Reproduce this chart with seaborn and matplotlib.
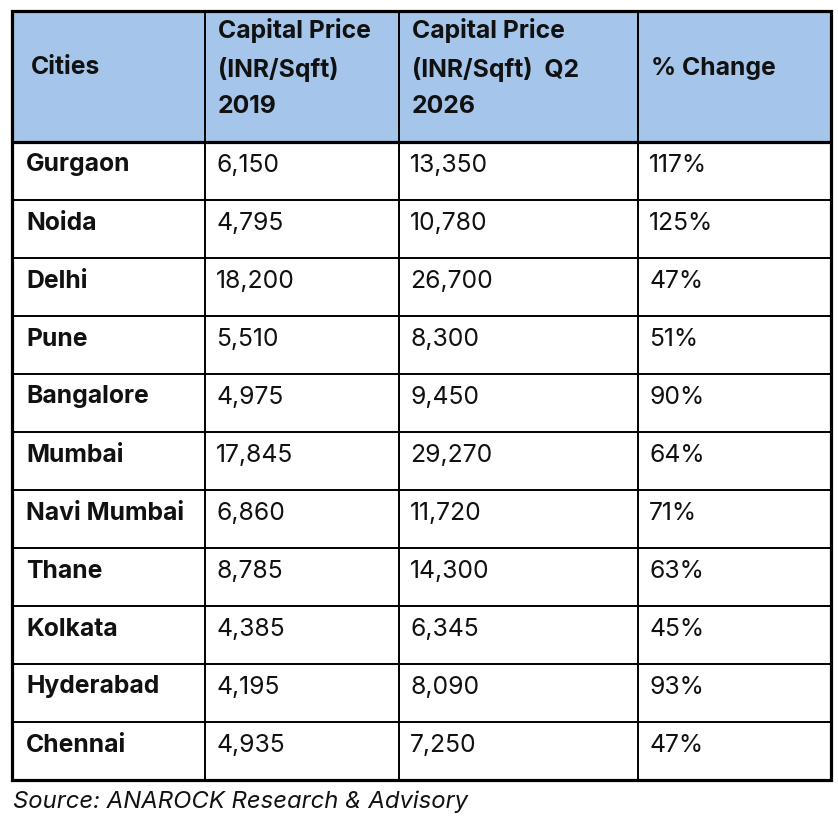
import matplotlib
matplotlib.use("Agg")
import matplotlib.pyplot as plt
from matplotlib.patches import Rectangle
import seaborn as sns

cities = ["Gurgaon", "Noida", "Delhi", "Pune", "Bangalore", "Mumbai",
          "Navi Mumbai", "Thane", "Kolkata", "Hyderabad", "Chennai"]
price_2019 = ["6,150", "4,795", "18,200", "5,510", "4,975", "17,845",
              "6,860", "8,785", "4,385", "4,195", "4,935"]
price_2026 = ["13,350", "10,780", "26,700", "8,300", "9,450", "29,270",
              "11,720", "14,300", "6,345", "8,090", "7,250"]
pct_change = ["117%", "125%", "47%", "51%", "90%", "64%",
              "71%", "63%", "45%", "93%", "47%"]
headers = ["Cities", "Capital Price\n(INR/Sqft)\n2019",
           "Capital Price\n(INR/Sqft)  Q2\n2026", "% Change"]
source = "Source: ANAROCK Research & Advisory"

sns.set_theme(style="white")
plt.rcParams['font.family'] = ['Inter', 'DejaVu Sans']

W, H = 838, 825
col_edges = [12, 205, 399, 638, 831]
top, header_h, row_h = 11, 131, 58
header_color = "#A5C5EA"
fs = 17.8

fig = plt.figure(figsize=(W / 100, H / 100), dpi=100)
ax = fig.add_axes([0, 0, 1, 1])
ax.set_xlim(0, W)
ax.set_ylim(H, 0)
ax.axis("off")

rows = list(zip(cities, price_2019, price_2026, pct_change))
row_tops = [top + header_h + i * row_h for i in range(len(rows))]
bottom = row_tops[-1] + row_h

# header fill
ax.add_patch(Rectangle((col_edges[0], top), col_edges[-1] - col_edges[0], header_h,
                       facecolor=header_color, edgecolor="none"))

# header text
for j, h in enumerate(headers):
    xpad = 19 if j == 0 else 13
    ax.text(col_edges[j] + xpad, top + 57, h, ha="left", va="center",
            fontsize=fs, fontweight="bold", color="#111111", linespacing=1.7)

# body text
for i, r in enumerate(rows):
    y = row_tops[i] + 23
    for j, val in enumerate(r):
        pad = 14 if j == 0 else 11
        ax.text(col_edges[j] + pad, y, val, ha="left", va="center",
                fontsize=fs, fontweight="bold" if j == 0 else "normal",
                color="#111111")

# grid lines
ax.hlines(row_tops[1:], col_edges[0], col_edges[-1], color="black", lw=1.4)
ax.vlines(col_edges[1:-1], top, bottom, color="black", lw=1.4)
ax.hlines([row_tops[0]], col_edges[0], col_edges[-1], color="black", lw=2.3)
ax.add_patch(Rectangle((col_edges[0], top), col_edges[-1] - col_edges[0], bottom - top,
                       facecolor="none", edgecolor="black", lw=2.3))

ax.text(col_edges[0] + 1, bottom + 22, source, ha="left", va="center",
        fontsize=17.2, fontstyle="italic", color="#111111")

fig.savefig("out.png", dpi=100)
